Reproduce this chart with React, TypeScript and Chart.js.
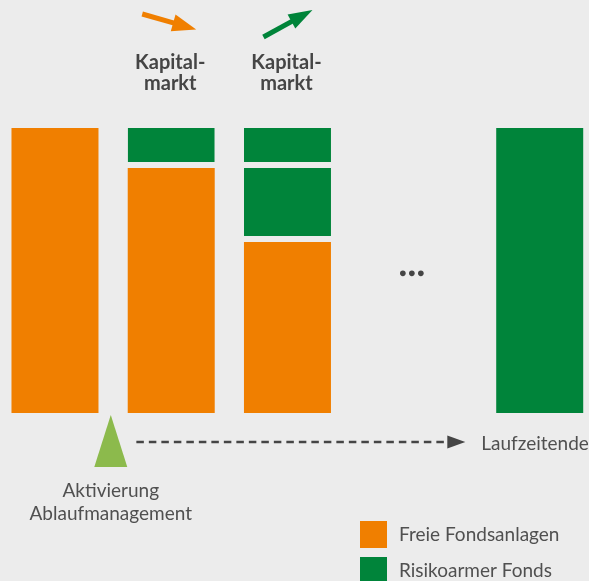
import React, { useEffect, useRef } from 'react';
import { Chart, registerables } from 'chart.js';

Chart.register(...registerables);

// ---- data ----
const steps = ['Beginn', 'Jahr 1', 'Jahr 2', 'Laufzeitende'];
const stepPositions = [0, 1, 2, 4.17];
const freieFondsanlagen = [100, 86, 60, 0];
const risikoarmerFondsBestand = [0, 0, 26, 100];
const risikoarmerFondsNeu = [0, 14, 14, 0];
const kapitalmarktTrend = [null, 'fallend', 'steigend', null];
const legendLabels = ['Freie Fondsanlagen', 'Risikoarmer Fonds'];
const kapitalmarktLabel = ['Kapital-', 'markt'];
const aktivierungLabel = ['Aktivierung', 'Ablaufmanagement'];
const endeLabel = 'Laufzeitende';
const aktivierungPosition = 0.48;
const ellipsisPosition = 3.07;
const timelineRange = [0.7, 3.53];

// ---- styles ----
const BG = '#ececec';
const ORANGE = '#f07f00';
const GREEN = '#00843a';
const LIGHT_GREEN = '#8cba4c';
const TEXT = '#505050';
const DARK = '#454545';
const GAP = 6;
const FONT = 'Lato, "Open Sans", sans-serif';

function arrow(ctx: CanvasRenderingContext2D, x1: number, y1: number, x2: number, y2: number, color: string, head: number, half: number, lw: number) {
  const dx = x2 - x1, dy = y2 - y1;
  const len = Math.hypot(dx, dy);
  const ux = dx / len, uy = dy / len;
  const bx = x2 - ux * head, by = y2 - uy * head;
  ctx.save();
  ctx.strokeStyle = color;
  ctx.fillStyle = color;
  ctx.lineWidth = lw;
  ctx.beginPath();
  ctx.moveTo(x1, y1);
  ctx.lineTo(bx + ux * 2, by + uy * 2);
  ctx.stroke();
  ctx.beginPath();
  ctx.moveTo(x2, y2);
  ctx.lineTo(bx - uy * half, by + ux * half);
  ctx.lineTo(bx + uy * half, by - ux * half);
  ctx.closePath();
  ctx.fill();
  ctx.restore();
}

const overlayPlugin = {
  id: 'overlay',
  afterDraw(chart: any) {
    const ctx: CanvasRenderingContext2D = chart.ctx;
    const xs = chart.scales.x;
    const ys = chart.scales.y;
    const area = chart.chartArea;
    ctx.save();

    // Kapitalmarkt arrows + labels
    kapitalmarktTrend.forEach((t, i) => {
      if (!t) return;
      const cx = xs.getPixelForValue(stepPositions[i]);
      if (t === 'fallend') {
        arrow(ctx, cx - 29, 14, cx + 25, 29.5, ORANGE, 24, 8.6, 5);
      } else {
        arrow(ctx, cx - 24, 37, cx + 25, 10, GREEN, 24, 8, 5);
      }
      ctx.fillStyle = DARK;
      ctx.font = `bold 20px ${FONT}`;
      ctx.textAlign = 'center';
      ctx.textBaseline = 'alphabetic';
      ctx.fillText(kapitalmarktLabel[0], cx - 1, 69);
      ctx.fillText(kapitalmarktLabel[1], cx - 1, 90);
    });

    // ellipsis
    const ex = xs.getPixelForValue(ellipsisPosition);
    const ey = ys.getPixelForValue(49);
    ctx.fillStyle = DARK;
    [-9, 0, 9].forEach((o) => {
      ctx.beginPath();
      ctx.arc(ex + o, ey, 2.8, 0, Math.PI * 2);
      ctx.fill();
    });

    // activation triangle
    const tx = xs.getPixelForValue(aktivierungPosition);
    const top = area.bottom + 2;
    ctx.fillStyle = LIGHT_GREEN;
    ctx.beginPath();
    ctx.moveTo(tx, top);
    ctx.lineTo(tx + 16.5, top + 52);
    ctx.lineTo(tx - 16.5, top + 52);
    ctx.closePath();
    ctx.fill();

    ctx.fillStyle = TEXT;
    ctx.font = `19px ${FONT}`;
    ctx.textAlign = 'center';
    ctx.fillText(aktivierungLabel[0], tx, 497);
    ctx.fillText(aktivierungLabel[1], tx, 520);

    // dashed timeline
    const lx1 = xs.getPixelForValue(timelineRange[0]);
    const lx2 = xs.getPixelForValue(timelineRange[1]);
    const ly = area.bottom + 29;
    ctx.strokeStyle = DARK;
    ctx.lineWidth = 2.5;
    ctx.setLineDash([7.5, 5]);
    ctx.beginPath();
    ctx.moveTo(lx1, ly);
    ctx.lineTo(lx2 - 16, ly);
    ctx.stroke();
    ctx.setLineDash([]);
    ctx.fillStyle = DARK;
    ctx.beginPath();
    ctx.moveTo(lx2, ly);
    ctx.lineTo(lx2 - 18, ly - 6.5);
    ctx.lineTo(lx2 - 18, ly + 6.5);
    ctx.closePath();
    ctx.fill();

    ctx.fillStyle = TEXT;
    ctx.font = `19px ${FONT}`;
    ctx.textAlign = 'left';
    ctx.fillText(endeLabel, lx2 + 16, ly + 8);

    // legend
    const legendColors = [ORANGE, GREEN];
    legendLabels.forEach((lbl, i) => {
      const by = 521 + i * 36;
      ctx.fillStyle = legendColors[i];
      ctx.fillRect(360, by, 27, 27);
      ctx.fillStyle = TEXT;
      ctx.font = `19px ${FONT}`;
      ctx.textAlign = 'left';
      ctx.fillText(lbl, 399, by + 20);
    });

    ctx.restore();
  },
};

function gapBorder(ctx: any) {
  if (ctx.dataIndex === undefined) return 0;
  const ds = ctx.chart.data.datasets;
  let below = 0;
  for (let d = 0; d < ctx.datasetIndex; d++) {
    const p = ds[d].data[ctx.dataIndex];
    below += p && typeof p === 'object' ? p.y : 0;
  }
  return { top: 0, left: 0, right: 0, bottom: below > 0 ? GAP : 0 };
}

export default function App() {
  const ref = useRef<HTMLCanvasElement | null>(null);

  useEffect(() => {
    if (!ref.current) return;
    const toPoints = (arr: number[]) => arr.map((v, i) => ({ x: stepPositions[i], y: v }));
    const chart = new Chart(ref.current, {
      type: 'bar',
      data: {
        labels: steps,
        datasets: [
          { label: legendLabels[0], data: toPoints(freieFondsanlagen), backgroundColor: ORANGE },
          { label: legendLabels[1], data: toPoints(risikoarmerFondsBestand), backgroundColor: GREEN },
          { label: legendLabels[1] + ' (Umschichtung)', data: toPoints(risikoarmerFondsNeu), backgroundColor: GREEN },
        ].map((d) => ({
          ...d,
          stack: 's',
          borderColor: BG,
          borderWidth: gapBorder,
          borderSkipped: false,
          inflateAmount: 0,
          barThickness: 87,
        })) as any,
      },
      options: {
        animation: false,
        responsive: false,
        layout: { padding: { top: 128, bottom: 168, left: 0, right: 0 } },
        scales: {
          x: { type: 'linear', min: -0.473, max: 4.594, display: false, stacked: true, offset: false, grid: { offset: false } },
          y: { min: 0, max: 100, display: false, stacked: true },
        },
        plugins: {
          legend: { display: false },
          tooltip: { enabled: false },
        },
      },
      plugins: [overlayPlugin],
    });
    return () => chart.destroy();
  }, []);

  return (
    <div style={{ position: 'fixed', left: 0, top: 0, width: 589, height: 581, background: BG, overflow: 'hidden' }}>
      <canvas ref={ref} width={589} height={581} style={{ display: 'block' }} />
    </div>
  );
}
